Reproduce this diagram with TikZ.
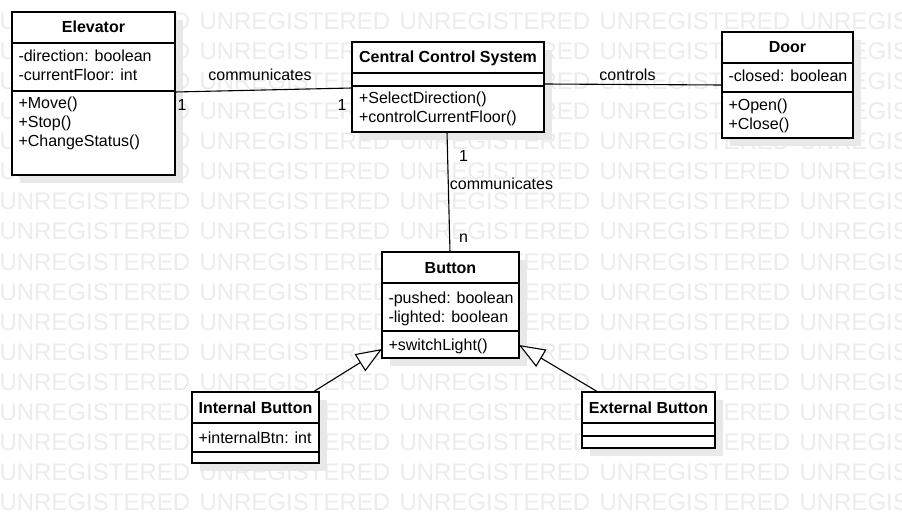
\documentclass[tikz,border=0pt]{standalone}
\usepackage{fontspec}
\setmainfont{Liberation Sans}
\usetikzlibrary{arrows.meta,calc,shadows}
\definecolor{wmgray}{RGB}{236,236,236}
\definecolor{shgray}{RGB}{232,232,232}
\begin{document}
\begin{tikzpicture}[x=1pt,y=-1pt,
  every node/.style={inner sep=0pt,outer sep=0pt},
  wm/.style={anchor=base west,text=wmgray,font=\fontsize{24}{28}\selectfont},
  cbox/.style={draw=black,fill=white,line width=1.3pt,anchor=north west,
    drop shadow={shadow xshift=8pt,shadow yshift=-8pt,fill=shgray,opacity=1}},
  sepline/.style={line width=1.3pt},
  ttl/.style={anchor=base,font=\fontsize{16}{19}\selectfont\bfseries},
  mem/.style={anchor=base west,font=\fontsize{16}{19}\selectfont},
  lbl/.style={anchor=base,font=\fontsize{16}{19}\selectfont},
  conn/.style={line width=1.1pt},
  inh/.style={line width=1.1pt,-{Triangle[open,length=26pt,width=20pt,fill=white]}}
]
\useasboundingbox (0,0) rectangle (902,513);
\fill[white] (0,0) rectangle (902,513);
% watermark
\foreach \r in {1,...,17}{
  \foreach \c in {0,...,4}{
    \node[wm] (wm-\r-\c) at (200*\c-0.5,30*\r) {UNREGISTERED};
  }
}
% Elevator
\node[cbox,minimum width=163pt,minimum height=163pt] (elev) at (12,12) {};
\draw[sepline] (12,43) -- (175,43);
\draw[sepline] (12,91) -- (175,91);
\node[ttl] (elevt) at (93.5,33) {Elevator};
\node[mem] (elev1) at (18.5,62) {-direction: boolean};
\node[mem] (elev2) at (18.5,81) {-currentFloor: int};
\node[mem] (elev3) at (18.5,109) {+Move()};
\node[mem] (elev4) at (18.5,128) {+Stop()};
\node[mem] (elev5) at (18.5,147) {+ChangeStatus()};
% Central Control System
\node[cbox,minimum width=192pt,minimum height=90pt] (ccs) at (352,42) {};
\draw[sepline] (352,73) -- (544,73);
\draw[sepline] (352,86) -- (544,86);
\node[ttl] (ccst) at (448,63) {Central Control System};
\node[mem] (ccs1) at (359,104) {+SelectDirection()};
\node[mem] (ccs2) at (359,123) {+controlCurrentFloor()};
% Door
\node[cbox,minimum width=131pt,minimum height=106pt] (door) at (722,32) {};
\draw[sepline] (722,63) -- (853,63);
\draw[sepline] (722,92) -- (853,92);
\node[ttl] (doort) at (787.5,53) {Door};
\node[mem] (door1) at (728.5,82) {-closed: boolean};
\node[mem] (door2) at (728.5,111) {+Open()};
\node[mem] (door3) at (728.5,130) {+Close()};
% Button
\node[cbox,minimum width=137pt,minimum height=106pt] (button) at (382,252) {};
\draw[sepline] (382,283) -- (519,283);
\draw[sepline] (382,331) -- (519,331);
\node[ttl] (buttont) at (450.5,273) {Button};
\node[mem] (button1) at (388.5,303) {-pushed: boolean};
\node[mem] (button2) at (388.5,322) {-lighted: boolean};
\node[mem] (button3) at (388.5,350) {+switchLight()};
% Internal Button
\node[cbox,minimum width=127pt,minimum height=71pt] (intbtn) at (192,392) {};
\draw[sepline] (192,423) -- (319,423);
\draw[sepline] (192,452) -- (319,452);
\node[ttl] (intbtnt) at (255.5,413) {Internal Button};
\node[mem] (intbtn1) at (198.5,443) {+internalBtn: int};
% External Button
\node[cbox,minimum width=133pt,minimum height=56pt] (extbtn) at (582,392) {};
\draw[sepline] (582,423) -- (715,423);
\draw[sepline] (582,436) -- (715,436);
\node[ttl] (extbtnt) at (648.5,413) {External Button};
% connectors
\draw[conn] ($(elev.east)+(0,-1.5)$) -- ($(ccs.west)+(0,1)$);
\draw[conn] ($(ccs.east)+(0,-3)$) -- ($(door.west)+(0,0)$);
\draw[conn] ($(ccs.south)+(-1,0)$) -- ($(button.north)+(-0.5,0)$);
\draw[inh] ($(intbtn.north east)+(-6,0)$) -- ($(button.south west)+(0,-9)$);
\draw[inh] ($(extbtn.north west)+(16,0)$) -- ($(button.south east)+(0,-13)$);
% labels
\node[lbl] (l1) at (260,81) {communicates};
\node[lbl] (l2) at (182,111) {1};
\node[lbl] (l3) at (342,111) {1};
\node[lbl] (l4) at (627.5,81) {controls};
\node[lbl] (l5) at (463.5,162) {1};
\node[lbl] (l6) at (501.5,190) {communicates};
\node[lbl] (l7) at (463.5,242) {n};
\end{tikzpicture}
\end{document}
